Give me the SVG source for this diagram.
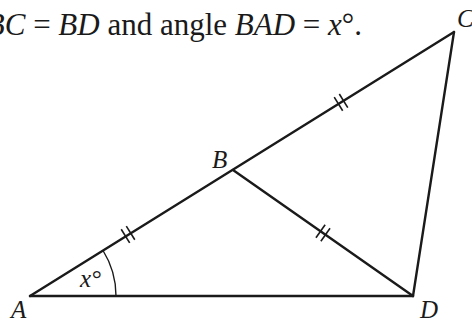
<svg xmlns="http://www.w3.org/2000/svg" width="472" height="323" viewBox="0 0 472 323">
<style>
.edge{stroke:#1a1a1a;stroke-width:2.4;fill:none;stroke-linecap:round}
.tick{stroke:#1a1a1a;stroke-width:1.6}
.arc{stroke:#1a1a1a;stroke-width:1.4;fill:none}
.lbl{font-family:"Liberation Serif","Times New Roman",serif;font-style:italic;font-size:25px;fill:#1a1a1a}
.hdr{font-family:"Liberation Serif","Times New Roman",serif;font-size:31px;fill:#1a1a1a}
</style>
<rect width="472" height="323" fill="#fff"/>
<text class="hdr" x="362" y="35" text-anchor="end"><tspan font-style="italic">BC</tspan> = <tspan font-style="italic">BD</tspan> and angle <tspan font-style="italic">BAD</tspan> = <tspan font-style="italic">x</tspan>°.</text>
<g id="connectors">
<line class="edge" x1="30" y1="296" x2="454" y2="32"/>
<line class="edge" x1="454" y1="32" x2="413" y2="296"/>
<line class="edge" x1="30" y1="296" x2="413" y2="296"/>
<line class="edge" x1="233" y1="170" x2="413" y2="296"/>
<g transform="translate(128,234.5) rotate(-31.9)"><line class="tick" x1="-3" y1="-8" x2="-3" y2="8"/><line class="tick" x1="3" y1="-8" x2="3" y2="8"/></g>
<g transform="translate(341,102.4) rotate(-31.9)"><line class="tick" x1="-3" y1="-8" x2="-3" y2="8"/><line class="tick" x1="3" y1="-8" x2="3" y2="8"/></g>
<g transform="translate(323,233) rotate(35)"><line class="tick" x1="-3" y1="-8" x2="-3" y2="8"/><line class="tick" x1="3" y1="-8" x2="3" y2="8"/></g>
<path class="arc" d="M116,296 A86,86 0 0 0 103,250.5"/>
</g>
<g id="A"><text class="lbl" x="11" y="318">A</text></g>
<g id="B"><text class="lbl" x="212" y="168">B</text></g>
<g id="C"><text class="lbl" x="457" y="27">C</text></g>
<g id="D"><text class="lbl" x="420" y="318">D</text></g>
<g id="angle"><text class="lbl" x="80" y="287" font-size="20">x°</text></g>
</svg>
